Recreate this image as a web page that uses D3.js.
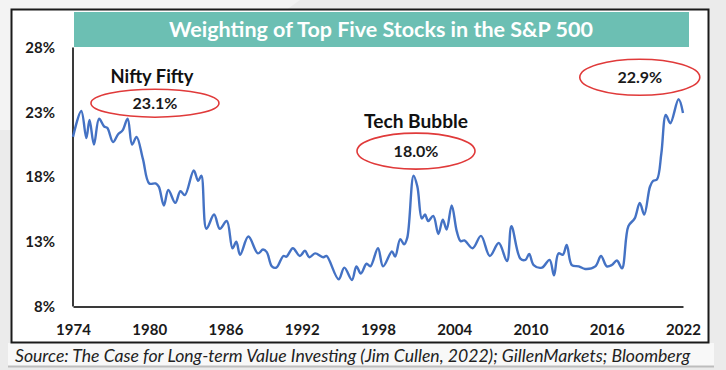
<!DOCTYPE html>
<html><head><meta charset="utf-8">
<script src="https://cdn.jsdelivr.net/npm/d3@7"></script>
<style>
html,body{margin:0;padding:0;background:#ececec;}
svg{display:block;}
</style></head>
<body>
<svg id="c" width="726" height="370"></svg>
<script>
// ---- data ----
const title = "Weighting of Top Five Stocks in the S&P 500";
const source = "Source: The Case for Long-term Value Investing (Jim Cullen, 2022); GillenMarkets; Bloomberg";
const yearTicks = [1974, 1980, 1986, 1992, 1998, 2004, 2010, 2016, 2022];
const pctTicks = [8, 13, 18, 23, 28];
const years = [1974.0,1974.65,1975.05,1975.3,1975.65,1976.05,1976.45,1976.7,1977.15,1977.55,1977.9,1978.3,1978.65,1979.0,1979.5,
1980.0,1980.5,1980.75,1981.15,1981.5,1982.05,1982.45,1982.8,1983.5,1983.85,1984.1,1984.5,1985.1,1985.55,1986.1,1986.55,1986.85,
1987.15,1987.8,1988.55,1988.95,1989.25,1989.65,1990.0,1990.55,1990.8,1991.3,1991.85,1992.25,1992.6,1993.05,1993.7,1993.95,
1994.9,1995.35,1995.95,1996.3,1996.65,1997.1,1997.4,1998.0,1998.4,1999.1,1999.35,1999.75,2000.05,2000.3,2000.8,2001.1,2001.45,
2001.7,2001.95,2002.35,2002.75,2003.1,2003.4,2003.8,2004.2,2004.5,2004.8,2005.45,2006.1,2006.8,2007.5,2008.15,2008.5,2009.2,
2009.6,2009.9,2010.25,2010.9,2011.5,2011.85,2012.2,2012.55,2012.85,2013.25,2013.8,2014.3,2015.1,2015.55,2016.0,2016.4,2016.8,
2017.2,2017.7,2018.2,2018.6,2018.95,2019.4,2019.65,2019.95,2020.3,2020.65,2021.0,2021.65,2022.0];
const weights = [21.1,23.1,21.0,22.4,20.5,22.5,21.9,21.8,20.7,21.3,21.6,22.5,20.5,21.1,19.4,
17.5,17.5,17.25,15.8,17.0,16.0,16.9,16.6,18.5,17.7,18.1,14.0,15.1,14.0,14.6,12.5,13.0,
12.0,13.4,12.1,12.4,12.2,11.1,11.0,11.9,11.85,12.5,11.9,12.3,11.8,12.1,11.8,11.9,
10.1,11.0,10.05,11.1,10.55,11.3,11.1,12.5,11.1,12.25,11.85,13.2,12.8,13.3,18.1,17.25,14.8,
15.1,14.6,15.0,13.6,14.7,13.95,15.8,13.8,13.05,13.1,12.5,13.45,11.9,12.9,11.5,14.2,11.7,
11.6,12.05,11.2,11.0,11.6,10.4,12.1,12.0,12.75,11.2,11.1,10.9,11.1,11.9,11.1,11.2,11.55,
10.95,14.2,14.8,16.0,15.1,17.25,17.7,17.8,19.85,22.8,22.15,24.0,22.95];
const annoHeads = ["Nifty Fifty", "Tech Bubble", ""];
const annoLabels = ["23.1%", "18.0%", "22.9%"];
const annoYears = [1980.45, 2000.99, 2018.6];
const annoVals = [23.7, 20.0, 25.7];

// ---- drawing ----
const svg = d3.select("#c");
const FONT = "Lato, 'Open Sans', sans-serif";

// background
svg.append("rect").attr("width",726).attr("height",370).attr("fill","#ebebeb");
svg.append("path").attr("d","M0,0 L300,0 L120,130 L0,130 Z").attr("fill","#f3f3f3");
svg.append("rect").attr("x",8).attr("y",343).attr("width",706).attr("height",23).attr("fill","#f8f8f8");
svg.append("line").attr("x1",8).attr("x2",714).attr("y1",366.5).attr("y2",366.5).attr("stroke","#bdbdbd").attr("stroke-width",2);
svg.append("rect").attr("x",11.5).attr("y",9.5).attr("width",697).attr("height",333)
  .attr("fill","#ffffff").attr("stroke","#1a1a1a").attr("stroke-width",2);

const x = d3.scaleLinear().domain([1974, 2022]).range([73, 683]);
const y = d3.scaleLinear().domain([8, 28]).range([306.5, 47.5]);

function fit(sel, w){
  const n = sel.node(); const cur = n.getComputedTextLength();
  const fs = parseFloat(sel.attr("font-size"));
  sel.attr("font-size", (fs*w/cur).toFixed(2));
}

// axes
const gx = svg.append("g").attr("transform","translate(0,306.5)")
  .call(d3.axisBottom(x).tickValues(yearTicks).tickSize(0).tickPadding(18).tickFormat(d3.format("d")));
const gy = svg.append("g").attr("transform","translate(73,0)")
  .call(d3.axisLeft(y).tickValues(pctTicks).tickSize(0).tickPadding(18).tickFormat(d=>d+"%"));
[gx,gy].forEach(g=>{
  g.select(".domain").attr("stroke","#3a3a3a").attr("stroke-width",2);
  g.selectAll("text").attr("font-family",FONT).attr("font-weight","bold")
    .attr("font-size",15).attr("fill","#1a1a1a");
});
gy.select(".domain").attr("d","M0,306.5V47.5");

// title band
svg.append("rect").attr("x",74).attr("y",12).attr("width",615).attr("height",35).attr("fill","#6cbfb3");
const t = svg.append("text").attr("x",381).attr("y",36.5).attr("text-anchor","middle")
  .attr("font-family",FONT).attr("font-weight","bold").attr("font-size",20).attr("fill","#ffffff").text(title);
fit(t, 424);

// line
const pts = years.map((yr,i)=>[yr, weights[i]]);
svg.append("path").datum(pts)
  .attr("d", d3.line().x(d=>x(d[0])).y(d=>y(d[1])).curve(d3.curveCatmullRom.alpha(0.5)))
  .attr("fill","none").attr("stroke","#4472c4").attr("stroke-width",2.4).attr("stroke-linejoin","round");

// annotations
const rx = [64, 59, 60], ry = [14, 18, 18], headW = [83, 104, 0];
annoLabels.forEach((lab,i)=>{
  const cx = x(annoYears[i]), cy = y(annoVals[i]);
  svg.append("ellipse").attr("cx",cx).attr("cy",cy).attr("rx",rx[i]).attr("ry",ry[i])
    .attr("fill","none").attr("stroke","#e03a3a").attr("stroke-width",1.6);
  svg.append("text").attr("x",cx).attr("y",cy+5.5).attr("text-anchor","middle")
    .attr("font-family",FONT).attr("font-weight","bold").attr("font-size",16).attr("fill","#1a1a1a").text(lab);
  if (annoHeads[i]) {
    const h = svg.append("text").attr("x",cx-(i===0?3:0)).attr("y",cy-(i===0?20:23)).attr("text-anchor","middle")
      .attr("font-family",FONT).attr("font-weight","bold").attr("font-size",17).attr("fill","#111").text(annoHeads[i]);
    fit(h, headW[i]);
  }
});

// source
const s = svg.append("text").attr("x",15).attr("y",362).attr("font-family",FONT).attr("font-style","italic")
  .attr("font-size",15).attr("fill","#222").text(source);
fit(s, 676);
</script>
</body></html>
